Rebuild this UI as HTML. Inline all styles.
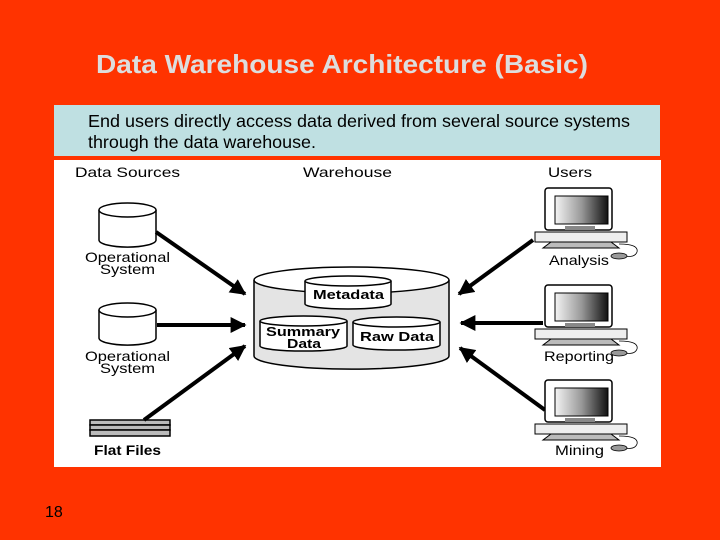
<!DOCTYPE html>
<html><head><style>
html,body{margin:0;padding:0;background:#ff3300;}
svg{display:block}
</style></head><body>
<svg width="720" height="540" viewBox="0 0 720 540" xmlns="http://www.w3.org/2000/svg" font-family="Liberation Sans, sans-serif">
<defs>
<linearGradient id="scr" x1="0" x2="1" y1="0" y2="0">
<stop offset="0" stop-color="#f4f4f4"/><stop offset="0.5" stop-color="#999"/><stop offset="1" stop-color="#111"/>
</linearGradient>
<marker id="ah" viewBox="0 0 10 10" refX="9" refY="5" markerWidth="4" markerHeight="4" orient="auto">
<path d="M0,0 L10,5 L0,10 z" fill="#000"/>
</marker>
<g id="pc">
<rect x="10" y="0" width="67" height="42" rx="3" fill="#fff" stroke="#000" stroke-width="1.5"/>
<rect x="20" y="8" width="53" height="28" fill="url(#scr)" stroke="#000"/>
<rect x="30" y="38" width="30" height="4" fill="#888"/>
<rect x="0" y="44" width="92" height="10" fill="#eee" stroke="#000"/>
<path d="M8,60 L84,60 L76,54 L16,54 z" fill="#bbb" stroke="#000"/>
<path d="M84,56 q20,0 18,8 q-2,6 -14,4" fill="none" stroke="#000" stroke-width="0.8"/>
<ellipse cx="84" cy="68" rx="8" ry="3" fill="#999" stroke="#000" stroke-width="0.8"/>
</g>
</defs>
<text x="96" y="73" font-size="26" fill="#ddd" font-weight="bold" textLength="492" lengthAdjust="spacingAndGlyphs">Data Warehouse Architecture (Basic)</text>
<rect x="54" y="105" width="606" height="51" fill="#bfe0e2"/>
<text x="88" y="127" font-size="17.5" fill="#000" textLength="542" lengthAdjust="spacingAndGlyphs">End users directly access data derived from several source systems</text>
<text x="88" y="148" font-size="17.5" fill="#000" textLength="228" lengthAdjust="spacingAndGlyphs">through the data warehouse.</text>
<rect x="54" y="160" width="607" height="307" fill="#fff"/>
<g font-size="14" fill="#000">
<text x="75" y="177" textLength="105" lengthAdjust="spacingAndGlyphs">Data Sources</text>
<text x="303" y="177" textLength="89" lengthAdjust="spacingAndGlyphs">Warehouse</text>
<text x="548" y="177" textLength="44" lengthAdjust="spacingAndGlyphs">Users</text>
<text x="85" y="262" textLength="85" lengthAdjust="spacingAndGlyphs">Operational</text><text x="100" y="274" textLength="55" lengthAdjust="spacingAndGlyphs">System</text>
<text x="85" y="361" textLength="85" lengthAdjust="spacingAndGlyphs">Operational</text><text x="100" y="373" textLength="55" lengthAdjust="spacingAndGlyphs">System</text>
<text x="94" y="455" font-weight="bold" textLength="67" lengthAdjust="spacingAndGlyphs">Flat Files</text>
<text x="549" y="265" textLength="60" lengthAdjust="spacingAndGlyphs">Analysis</text>
<text x="544" y="361" textLength="70" lengthAdjust="spacingAndGlyphs">Reporting</text>
<text x="555" y="455" textLength="49" lengthAdjust="spacingAndGlyphs">Mining</text>
</g>
<!-- source cylinders -->
<g stroke="#000" stroke-width="1.5" fill="#fff">
<path d="M99,210 L99,240 A28,7 0 0 0 156,240 L156,210"/>
<ellipse cx="127.5" cy="210" rx="28.5" ry="7"/>
<path d="M99,310 L99,338 A28,7 0 0 0 156,338 L156,310"/>
<ellipse cx="127.5" cy="310" rx="28.5" ry="7"/>
</g>
<!-- flat files -->
<g stroke="#000" stroke-width="1.5" fill="#bbb">
<rect x="90" y="420" width="80" height="5"/>
<rect x="90" y="425" width="80" height="5"/>
<rect x="90" y="430" width="80" height="6"/>
</g>
<!-- warehouse -->
<path d="M254,280 L254,356 A97,13 0 0 0 449,356 L449,280" fill="#e4e4e4" stroke="#000" stroke-width="1.5"/>
<ellipse cx="351.5" cy="280" rx="97.5" ry="13" fill="#fff" stroke="#000" stroke-width="1.5"/>
<g stroke="#000" stroke-width="1.5" fill="#fff">
<path d="M305,281 L305,304 A43,5 0 0 0 391,304 L391,281"/>
<ellipse cx="348" cy="281" rx="43" ry="5"/>
<path d="M260,321 L260,346 A43,5 0 0 0 347,346 L347,321"/>
<ellipse cx="303.5" cy="321" rx="43.5" ry="5"/>
<path d="M353,322 L353,345 A43,5 0 0 0 440,345 L440,322"/>
<ellipse cx="396.5" cy="322" rx="43.5" ry="5"/>
</g>
<g font-size="13" font-weight="bold" fill="#000">
<text x="313" y="299" textLength="71" lengthAdjust="spacingAndGlyphs">Metadata</text>
<text x="266" y="336" textLength="74" lengthAdjust="spacingAndGlyphs">Summary</text><text x="287" y="348" textLength="34" lengthAdjust="spacingAndGlyphs">Data</text>
<text x="360" y="341" textLength="74" lengthAdjust="spacingAndGlyphs">Raw Data</text>
</g>
<!-- arrows -->
<g stroke="#000" stroke-width="4" marker-end="url(#ah)">
<line x1="156" y1="232" x2="245" y2="294"/>
<line x1="157" y1="325" x2="245" y2="325"/>
<line x1="144" y1="420" x2="245" y2="346"/>
<line x1="533" y1="240" x2="459" y2="294"/>
<line x1="543" y1="323" x2="461" y2="323"/>
<line x1="545" y1="410" x2="460" y2="348"/>
</g>
<use href="#pc" x="535" y="188"/>
<use href="#pc" x="535" y="285"/>
<use href="#pc" x="535" y="380"/>
<text x="45" y="517" font-size="16" fill="#000">18</text>
</svg>
</body></html>
